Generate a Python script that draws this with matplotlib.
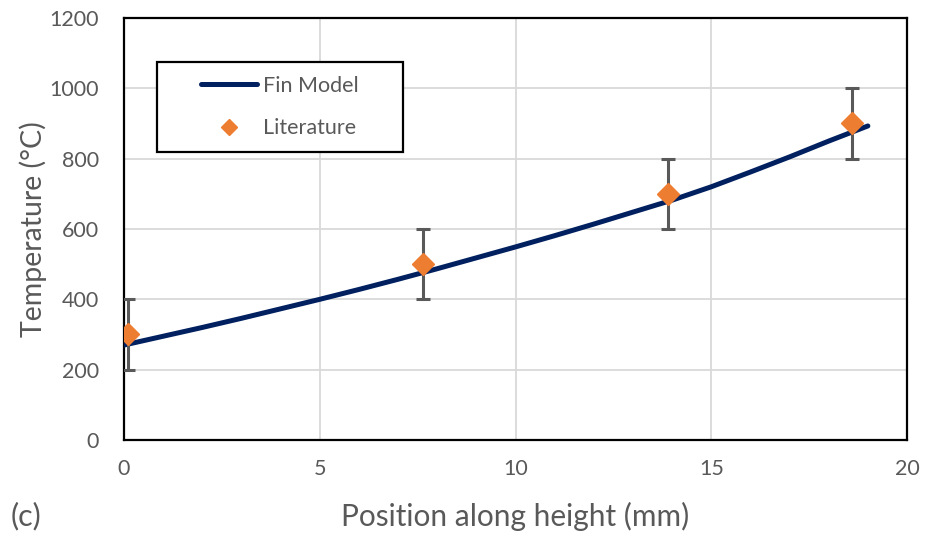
import numpy as np
import matplotlib
matplotlib.use("Agg")
import matplotlib.pyplot as plt
from matplotlib.patches import Rectangle

# fin model curve
model_x = [0, 1, 2, 3, 4, 5, 6, 7, 8, 9, 10, 11, 12, 13, 14, 15, 16, 17, 18, 19]
model_T = [270, 295, 320, 346, 373, 400, 428, 457, 487, 518, 549, 581, 614, 648, 682, 720, 762, 805, 850, 893]

# literature points with error bars
lit_x = [0.1, 7.65, 13.9, 18.6]
lit_T = [300, 500, 700, 900]
lit_err = [100, 100, 100, 100]

xticks = [0, 5, 10, 15, 20]
yticks = [0, 200, 400, 600, 800, 1000, 1200]

plt.rcParams['font.family'] = ['Lato', 'DejaVu Sans']
grey = '#595959'

fig = plt.figure(figsize=(9.26, 5.39), dpi=100)
ax = fig.add_axes([0.1339, 0.1837, 0.8456, 0.7829])

ax.plot(model_x, model_T, color='#002060', lw=3.6, solid_capstyle='round',
        label='Fin Model', zorder=3)
ax.errorbar(lit_x, lit_T, yerr=lit_err, fmt='none', ecolor=grey, elinewidth=2.2,
            capsize=5, capthick=2.2, zorder=4)
ax.plot(lit_x, lit_T, 'D', color='#ED7D31', ms=11, ls='none', label='Literature', zorder=5)

ax.set_xlim(0, 20)
ax.set_ylim(0, 1200)
ax.set_xticks(xticks)
ax.set_yticks(yticks)
ax.grid(True, color='#D9D9D9', lw=1.3)
ax.set_axisbelow(True)
for s in ax.spines.values():
    s.set_color('black')
    s.set_linewidth(1.6)
ax.tick_params(length=0, labelsize=15.5, labelcolor=grey)
ax.tick_params(axis='y', pad=18)
ax.tick_params(axis='x', pad=14)

ax.set_xlabel('Position along height (mm)', fontsize=21.5, color=grey, labelpad=16)
ax.set_ylabel('Temperature (°C)', fontsize=20.5, color=grey, labelpad=2)

# legend box
box = (0.042, 0.682, 0.314, 0.214)
ax.add_patch(Rectangle(box[:2], box[2], box[3], transform=ax.transAxes,
                       facecolor='white', edgecolor='black', lw=1.6, zorder=6))
leg = ax.legend(loc='center', bbox_to_anchor=box, borderaxespad=0,
                fontsize=15.5, frameon=False, handlelength=2.6, markerscale=0.7,
                labelspacing=1.05, borderpad=0.2, handletextpad=0.25)
leg.set_zorder(7)
for t in leg.get_texts():
    t.set_color(grey)

fig.text(0.011, 0.025, '(c)', fontsize=22, color=grey)

fig.savefig('out.png', dpi=100)
